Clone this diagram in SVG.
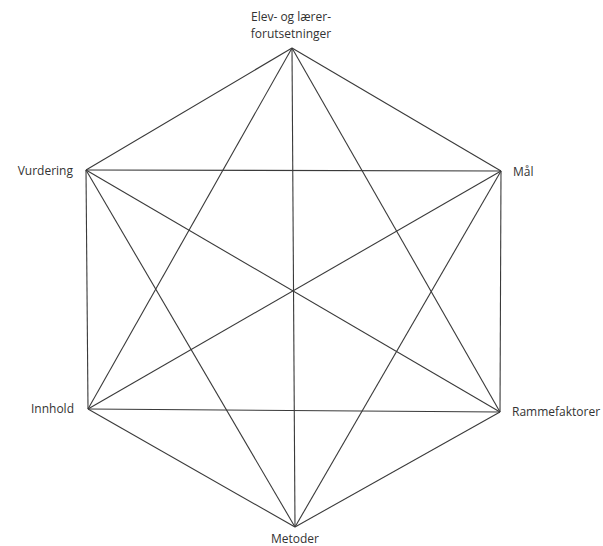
<svg xmlns="http://www.w3.org/2000/svg" width="603" height="546" viewBox="0 0 603 546">
<style>
.e{stroke:#3a3a3a;stroke-width:1.1;fill:none}
.t{font-family:"Open Sans","Liberation Sans",sans-serif;font-size:12px;fill:#333}
</style>
<rect width="603" height="546" fill="#fff"/>
<g id="connectors">
<line class="e" x1="292" y1="48" x2="501" y2="171"/>
<line class="e" x1="292" y1="48" x2="500" y2="412"/>
<line class="e" x1="292" y1="48" x2="295" y2="527"/>
<line class="e" x1="292" y1="48" x2="88" y2="409"/>
<line class="e" x1="292" y1="48" x2="86" y2="170"/>
<line class="e" x1="501" y1="171" x2="500" y2="412"/>
<line class="e" x1="501" y1="171" x2="295" y2="527"/>
<line class="e" x1="501" y1="171" x2="88" y2="409"/>
<line class="e" x1="501" y1="171" x2="86" y2="170"/>
<line class="e" x1="500" y1="412" x2="295" y2="527"/>
<line class="e" x1="500" y1="412" x2="88" y2="409"/>
<line class="e" x1="500" y1="412" x2="86" y2="170"/>
<line class="e" x1="295" y1="527" x2="88" y2="409"/>
<line class="e" x1="295" y1="527" x2="86" y2="170"/>
<line class="e" x1="88" y1="409" x2="86" y2="170"/>
</g>
<g id="elev"><text class="t" x="291" y="21" text-anchor="middle">Elev- og lærer-</text><text class="t" x="291" y="38" text-anchor="middle">forutsetninger</text></g>
<g id="maal"><text class="t" x="513" y="176">Mål</text></g>
<g id="ramme"><text class="t" x="512" y="416">Rammefaktorer</text></g>
<g id="metoder"><text class="t" x="295" y="543" text-anchor="middle">Metoder</text></g>
<g id="innhold"><text class="t" x="74" y="413" text-anchor="end">Innhold</text></g>
<g id="vurdering"><text class="t" x="73" y="175" text-anchor="end">Vurdering</text></g>
</svg>
